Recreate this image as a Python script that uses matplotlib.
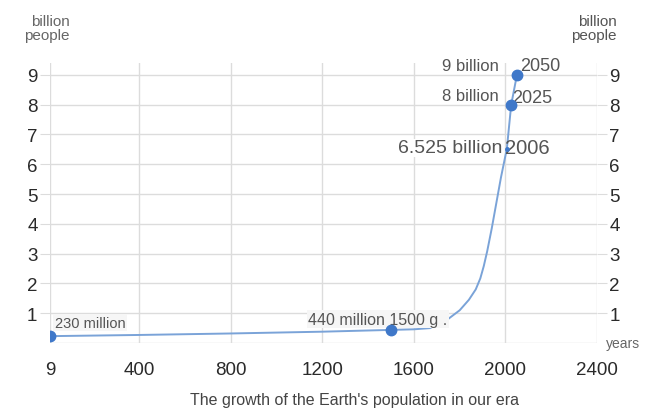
import matplotlib.pyplot as plt

plt.rcParams['font.family'] = ['Liberation Sans', 'DejaVu Sans']

# curve (year, billion people)
curve_years = [9, 400, 800, 1200, 1500, 1600, 1670, 1745, 1800, 1840, 1870, 1890, 1905, 1920, 1940, 1960, 1980, 2006, 2025, 2050]
curve_values = [0.23, 0.27, 0.32, 0.38, 0.44, 0.46, 0.50, 0.78, 1.10, 1.45, 1.80, 2.17, 2.58, 3.08, 3.85, 4.70, 5.55, 6.525, 8.0, 9.0]

# labelled points
point_years = [9, 1500, 2025, 2050]
point_values = [0.23, 0.44, 8.0, 9.0]

x_ticks = [9, 400, 800, 1200, 1600, 2000, 2400]
y_ticks = [1, 2, 3, 4, 5, 6, 7, 8, 9]

line_col = '#7aa3d8'
dot_col = '#3f78c9'
txt_col = '#555555'
grid_col = '#dcdcdc'

fig = plt.figure(figsize=(6.49, 4.10), dpi=100)
ax = fig.add_axes([50 / 649, 66 / 410, 547 / 649, 280 / 410])

ax.plot(curve_years, curve_values, color=line_col, lw=1.4, zorder=3)
ax.plot(point_years, point_values, 'o', color=dot_col, ms=7.5, zorder=4)
ax.plot([2006], [6.525], 'o', color=dot_col, ms=2.5, zorder=4)

ax.set_xlim(9, 2400)
ax.set_ylim(0, 9.4)
ax.set_xticks(x_ticks)
ax.set_yticks(y_ticks)
ax.grid(True, color=grid_col, lw=1)
ax.axhline(0, color=grid_col, lw=1, zorder=1)
ax.set_axisbelow(True)
for s in ax.spines.values():
    s.set_visible(False)
ax.tick_params(axis='y', length=7, color=grid_col, labelsize=13.5, labelcolor='#2a2a2a',
               pad=2, left=True, right=True, labelleft=True, labelright=True)
ax.tick_params(axis='x', length=0, labelsize=13.5, labelcolor='#2a2a2a', pad=13)

box = dict(facecolor='#f6f6f6', edgecolor='none', pad=1.0)
ax.text(30, 0.45, '230 million', fontsize=10.5, color=txt_col, ha='left', va='bottom', bbox=box)
ax.text(1137, 0.55, '440 million 1500 g .', fontsize=11.5, color=txt_col, ha='left', va='bottom', bbox=box)
ax.text(1985, 6.55, '6.525 billion', fontsize=14, color=txt_col, ha='right', va='center',
        bbox=dict(facecolor='white', edgecolor='none', pad=0.5))
ax.text(2000, 6.55, '2006', fontsize=14.5, color=txt_col, ha='left', va='center')
ax.text(1970, 8.3, '8 billion', fontsize=12, color=txt_col, ha='right', va='center',
        bbox=dict(facecolor='white', edgecolor='none', pad=0.5))
ax.text(2030, 8.25, '2025', fontsize=13, color=txt_col, ha='left', va='center')
ax.text(1970, 9.3, '9 billion', fontsize=12, color=txt_col, ha='right', va='center',
        bbox=dict(facecolor='white', edgecolor='none', pad=0.5))
ax.text(2062, 9.3, '2050', fontsize=13, color=txt_col, ha='left', va='center')

fig.text(70 / 649, 1 - 29 / 410, 'billion\npeople', fontsize=11, color='#666666',
         ha='right', va='center', multialignment='right', linespacing=1.0)
fig.text(617 / 649, 1 - 29 / 410, 'billion\npeople', fontsize=11, color='#555555',
         ha='right', va='center', multialignment='right', linespacing=1.0)
fig.text(623 / 649, 1 - 344 / 410, 'years', fontsize=10, color='#666666', ha='center', va='center')
fig.text(355 / 649, 1 - 401 / 410, "The growth of the Earth's population in our era",
         fontsize=11.5, color='#444444', ha='center', va='center')

fig.savefig('out.png', dpi=100)
